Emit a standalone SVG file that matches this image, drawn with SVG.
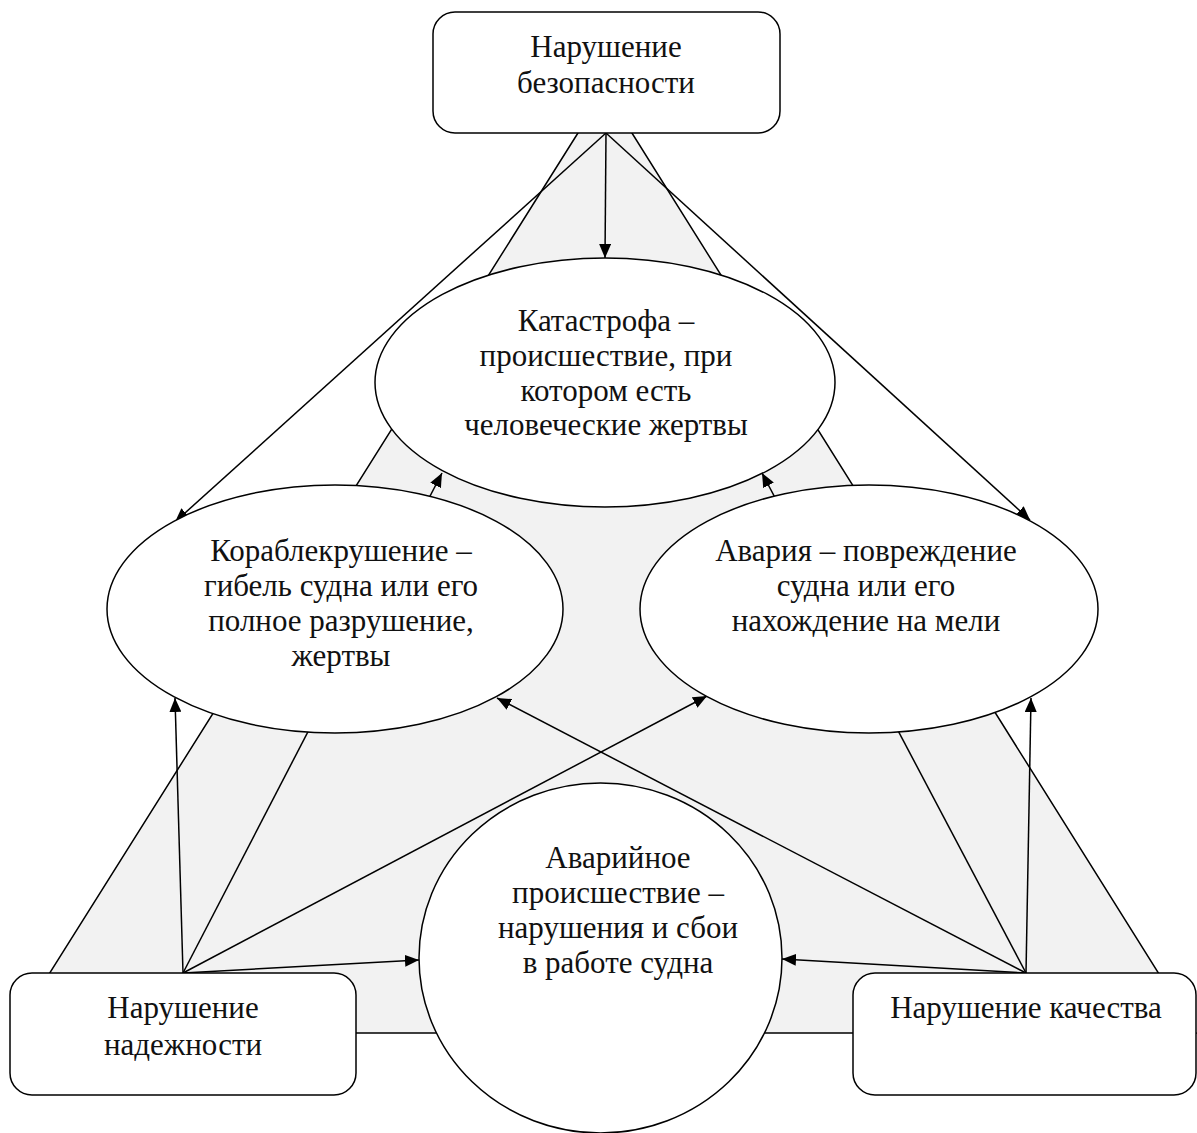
<svg xmlns="http://www.w3.org/2000/svg" width="1197" height="1133" viewBox="0 0 1197 1133">
<style>
.bg{fill:#f2f2f2;stroke:#000;stroke-width:1.5}
.n{fill:#fff;stroke:#000;stroke-width:1.5}
.c{stroke:#000;stroke-width:1.5;fill:none}
.a{marker-end:url(#ah)}
text{font-family:"Liberation Serif","Times New Roman",serif;font-size:31px;fill:#111;text-anchor:middle}
</style>
<defs>
<marker id="ah" markerUnits="userSpaceOnUse" markerWidth="14" markerHeight="12" refX="14" refY="6" orient="auto" viewBox="0 0 14 12">
<path d="M0,0 L14,6 L0,12 z" fill="#000"/>
</marker>
</defs>
<polygon class="bg" points="605,90 12,1033 1196,1033"/>
<g id="connectors">
<line class="c a" x1="606" y1="133" x2="605" y2="258"/>
<line class="c a" x1="606" y1="133" x2="175" y2="522"/>
<line class="c a" x1="606" y1="133" x2="1030" y2="520"/>
<line class="c a" x1="183" y1="973" x2="175" y2="698"/>
<line class="c a" x1="183" y1="973" x2="442" y2="473"/>
<line class="c a" x1="183" y1="973" x2="707" y2="696"/>
<line class="c a" x1="183" y1="973" x2="419" y2="960"/>
<line class="c a" x1="1026" y1="973" x2="1031" y2="698"/>
<line class="c a" x1="1026" y1="973" x2="762" y2="473"/>
<line class="c a" x1="1026" y1="973" x2="497" y2="698"/>
<line class="c a" x1="1026" y1="973" x2="782" y2="959"/>
</g>
<g id="safety">
<rect class="n" x="433" y="12" width="347" height="121" rx="22"/>
<text x="606" y="57">Нарушение</text>
<text x="606" y="93">безопасности</text>
</g>
<g id="catastrophe">
<ellipse class="n" cx="605" cy="382.5" rx="230" ry="124.5"/>
<text x="606" y="331">Катастрофа –</text>
<text x="606" y="366">происшествие, при</text>
<text x="606" y="401">котором есть</text>
<text x="606" y="435">человеческие жертвы</text>
</g>
<g id="shipwreck">
<ellipse class="n" cx="335" cy="609" rx="228" ry="124"/>
<text x="341" y="561">Кораблекрушение –</text>
<text x="341" y="596">гибель судна или его</text>
<text x="341" y="631">полное разрушение,</text>
<text x="341" y="666">жертвы</text>
</g>
<g id="accident">
<ellipse class="n" cx="869" cy="609" rx="229" ry="124"/>
<text x="866" y="561">Авария – повреждение</text>
<text x="866" y="596">судна или его</text>
<text x="866" y="631">нахождение на мели</text>
</g>
<g id="incident">
<ellipse class="n" cx="600.5" cy="958" rx="181.5" ry="175"/>
<text x="618" y="868">Аварийное</text>
<text x="618" y="903">происшествие –</text>
<text x="618" y="938">нарушения и сбои</text>
<text x="618" y="973">в работе судна</text>
</g>
<g id="reliability">
<rect class="n" x="10" y="973" width="346" height="122" rx="22"/>
<text x="183" y="1018">Нарушение</text>
<text x="183" y="1055">надежности</text>
</g>
<g id="quality">
<rect class="n" x="853" y="973" width="343" height="122" rx="22"/>
<text x="1026" y="1018">Нарушение качества</text>
</g>
</svg>
